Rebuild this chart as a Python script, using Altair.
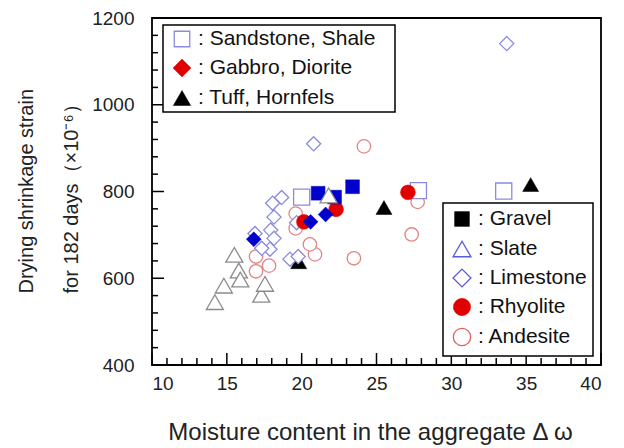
import altair as alt
import pandas as pd

# ---- data ----
sandstone_x = [20.0, 27.8, 33.5]
sandstone_y = [787, 802, 801]
gravel_x = [21.1, 22.2, 23.4]
gravel_y = [796, 787, 811]
gabbro_x = [16.8, 20.6, 21.6]
gabbro_y = [690, 730, 747]
rhyolite_x = [20.15, 22.3, 27.1]
rhyolite_y = [730, 759, 798]
tuff_x = [19.8, 25.5, 35.3]
tuff_y = [638, 763, 816]
slate_x = [14.2, 14.8, 15.5, 15.8, 15.9, 17.3, 17.55, 21.8]
slate_y = [545, 583, 654, 618, 597, 562, 587, 791]
limestone_x = [33.7, 20.8, 18.66, 18.06, 18.15, 17.93, 18.15, 17.88, 17.33, 16.88, 19.22, 19.77, 19.66]
limestone_y = [1141, 910, 786, 773, 741, 711, 692, 667, 669, 703, 644, 650, 728]
andesite_x = [24.16, 27.75, 27.35, 23.49, 20.89, 20.55, 19.6, 19.6, 16.95, 16.95, 17.82]
andesite_y = [904, 776, 701, 646, 655, 678, 749, 715, 650, 616, 629]

x_major = [10, 15, 20, 25, 30, 35, 40]
x_minor = [v for v in range(10, 41) if v % 5 != 0]
y_major = [400, 600, 800, 1000, 1200]
y_minor = [v for v in range(400, 1201, 40) if v % 200 != 0]

legend1_labels = [": Sandstone, Shale", ": Gabbro, Diorite", ": Tuff, Hornfels"]
legend2_labels = [": Gravel", ": Slate", ": Limestone", ": Rhyolite", ": Andesite"]

# ---- styling ----
LAV = "#8a8ae0"
BLUE = "#0000cc"
RED = "#e00000"
PINK = "#e08585"
GRAY = "#8a8a8a"
FONT = "Liberation Sans"
PLOT_LEFT = 152   # page x of plot area
PLOT_TOP = 18     # page y of plot area
H = 347

xscale = alt.Scale(domain=[10, 40], nice=False, zero=False)
yscale = alt.Scale(domain=[400, 1200], nice=False, zero=False)
xaxis = alt.Axis(values=x_major, ticks=False, domain=False, grid=False, format="d",
                 labelFontSize=19, labelPadding=9, labelColor="#222", labelFont=FONT,
                 title="Moisture content in the aggregate Δ ω", titleFontSize=24,
                 titleFont=FONT, titleFontWeight="normal", titleColor="#222",
                 titleX=218, titleY=67, titleBaseline="middle", titleAlign="center")
yaxis = alt.Axis(values=y_major, ticks=False, domain=False, grid=False, format="d",
                 labelFontSize=19, labelPadding=18, labelColor="#222", labelFont=FONT,
                 title=["Drying shrinkage strain", "for 182 days（×10⁻⁶）"],
                 titleFontSize=20, titleFont=FONT, titleFontWeight="normal",
                 titleColor="#222", titleAngle=270, titleAlign="left",
                 titleBaseline="top", titleLineHeight=45, titleX=-136, titleY=293 - PLOT_TOP)


def X():
    return alt.X("x:Q", scale=xscale, axis=xaxis)


def Y():
    return alt.Y("y:Q", scale=yscale, axis=yaxis)


def pts(xs, ys, shape, size, color, filled):
    df = pd.DataFrame({"x": xs, "y": ys})
    if filled:
        m = alt.Chart(df).mark_point(shape=shape, size=size, filled=True,
                                     fill=color, stroke=color, strokeWidth=0.5, opacity=1)
    else:
        m = alt.Chart(df).mark_point(shape=shape, size=size, filled=True,
                                     fill="white", stroke=color, strokeWidth=1.3, opacity=1)
    return m.encode(x=X(), y=Y())


layers = []

# ticks (inward)
layers.append(alt.Chart(pd.DataFrame({"y": y_major})).mark_rule(color="black", strokeWidth=1.5)
              .encode(y=Y(), x=alt.value(0), x2=alt.value(12)))
layers.append(alt.Chart(pd.DataFrame({"y": y_minor})).mark_rule(color="black", strokeWidth=1.5)
              .encode(y=Y(), x=alt.value(0), x2=alt.value(6)))
layers.append(alt.Chart(pd.DataFrame({"x": x_major})).mark_rule(color="black", strokeWidth=1.5)
              .encode(x=X(), y=alt.value(H), y2=alt.value(H - 12)))
layers.append(alt.Chart(pd.DataFrame({"x": x_minor})).mark_rule(color="black", strokeWidth=1.5)
              .encode(x=X(), y=alt.value(H), y2=alt.value(H - 7)))

# data points
layers.append(pts(andesite_x, andesite_y, "circle", 180, PINK, False))
layers.append(pts(tuff_x, tuff_y, "triangle-up", 256, "black", True))
layers.append(pts(limestone_x, limestone_y, "diamond", 200, LAV, False))
layers.append(pts(sandstone_x, sandstone_y, "square", 260, LAV, False))
layers.append(pts(rhyolite_x, rhyolite_y, "circle", 220, RED, True))
layers.append(pts(gabbro_x, gabbro_y, "diamond", 220, BLUE, True))
layers.append(pts(gravel_x, gravel_y, "square", 190, BLUE, True))
layers.append(pts(slate_x, slate_y, "triangle-up", 290, GRAY, False))


# legend boxes (page pixel positions converted to plot-area coordinates)
def box(x0, y0, x1, y1):
    return alt.Chart(pd.DataFrame({"a": [0]})).mark_rect(
        fill="white", stroke="black", strokeWidth=1.5
    ).encode(x=alt.value(x0 - PLOT_LEFT), x2=alt.value(x1 - PLOT_LEFT),
             y=alt.value(y0 - PLOT_TOP), y2=alt.value(y1 - PLOT_TOP))


def leg_sym(px, py, shape, size, color, filled):
    if filled:
        m = alt.Chart(pd.DataFrame({"a": [0]})).mark_point(
            shape=shape, size=size, filled=True, fill=color, stroke=color,
            strokeWidth=0.5, opacity=1)
    else:
        m = alt.Chart(pd.DataFrame({"a": [0]})).mark_point(
            shape=shape, size=size, filled=True, fill="white", stroke=color,
            strokeWidth=1.3, opacity=1)
    return m.encode(x=alt.value(px - PLOT_LEFT), y=alt.value(py - PLOT_TOP))


def leg_text(px, py, label):
    return alt.Chart(pd.DataFrame({"a": [0]})).mark_text(
        align="left", baseline="middle", fontSize=21, font=FONT, color="#111"
    ).encode(x=alt.value(px - PLOT_LEFT), y=alt.value(py - PLOT_TOP), text=alt.value(label))


layers.append(box(163, 25, 395, 112))
leg1_syms = [("square", 240, LAV, False), ("diamond", 320, RED, True), ("triangle-up", 300, "black", True)]
leg1_y = [39, 68, 98]
for (shape, size, color, filled), ly, lab in zip(leg1_syms, leg1_y, legend1_labels):
    layers.append(leg_sym(182, ly, shape, size, color, filled))
    layers.append(leg_text(198, ly, lab))

layers.append(box(443, 203, 593, 356))
leg2_syms = [("square", 220, "black", True), ("triangle-up", 320, "#5a5ad8", False),
             ("diamond", 320, "#5a5ad8", False), ("circle", 300, RED, True),
             ("circle", 300, "#e06060", False)]
leg2_y = [219, 249, 278, 307, 337]
for (shape, size, color, filled), ly, lab in zip(leg2_syms, leg2_y, legend2_labels):
    layers.append(leg_sym(462, ly, shape, size, color, filled))
    layers.append(leg_text(478, ly, lab))

chart = alt.layer(*layers).properties(
    width=449, height=H,
    autosize=alt.AutoSizeParams(type="none"),
    padding={"left": 144, "top": 10, "right": 15, "bottom": 80},
).configure_view(stroke="black", strokeWidth=1.8)

chart.save("out.html", embed_options={"renderer": "svg", "actions": False})
